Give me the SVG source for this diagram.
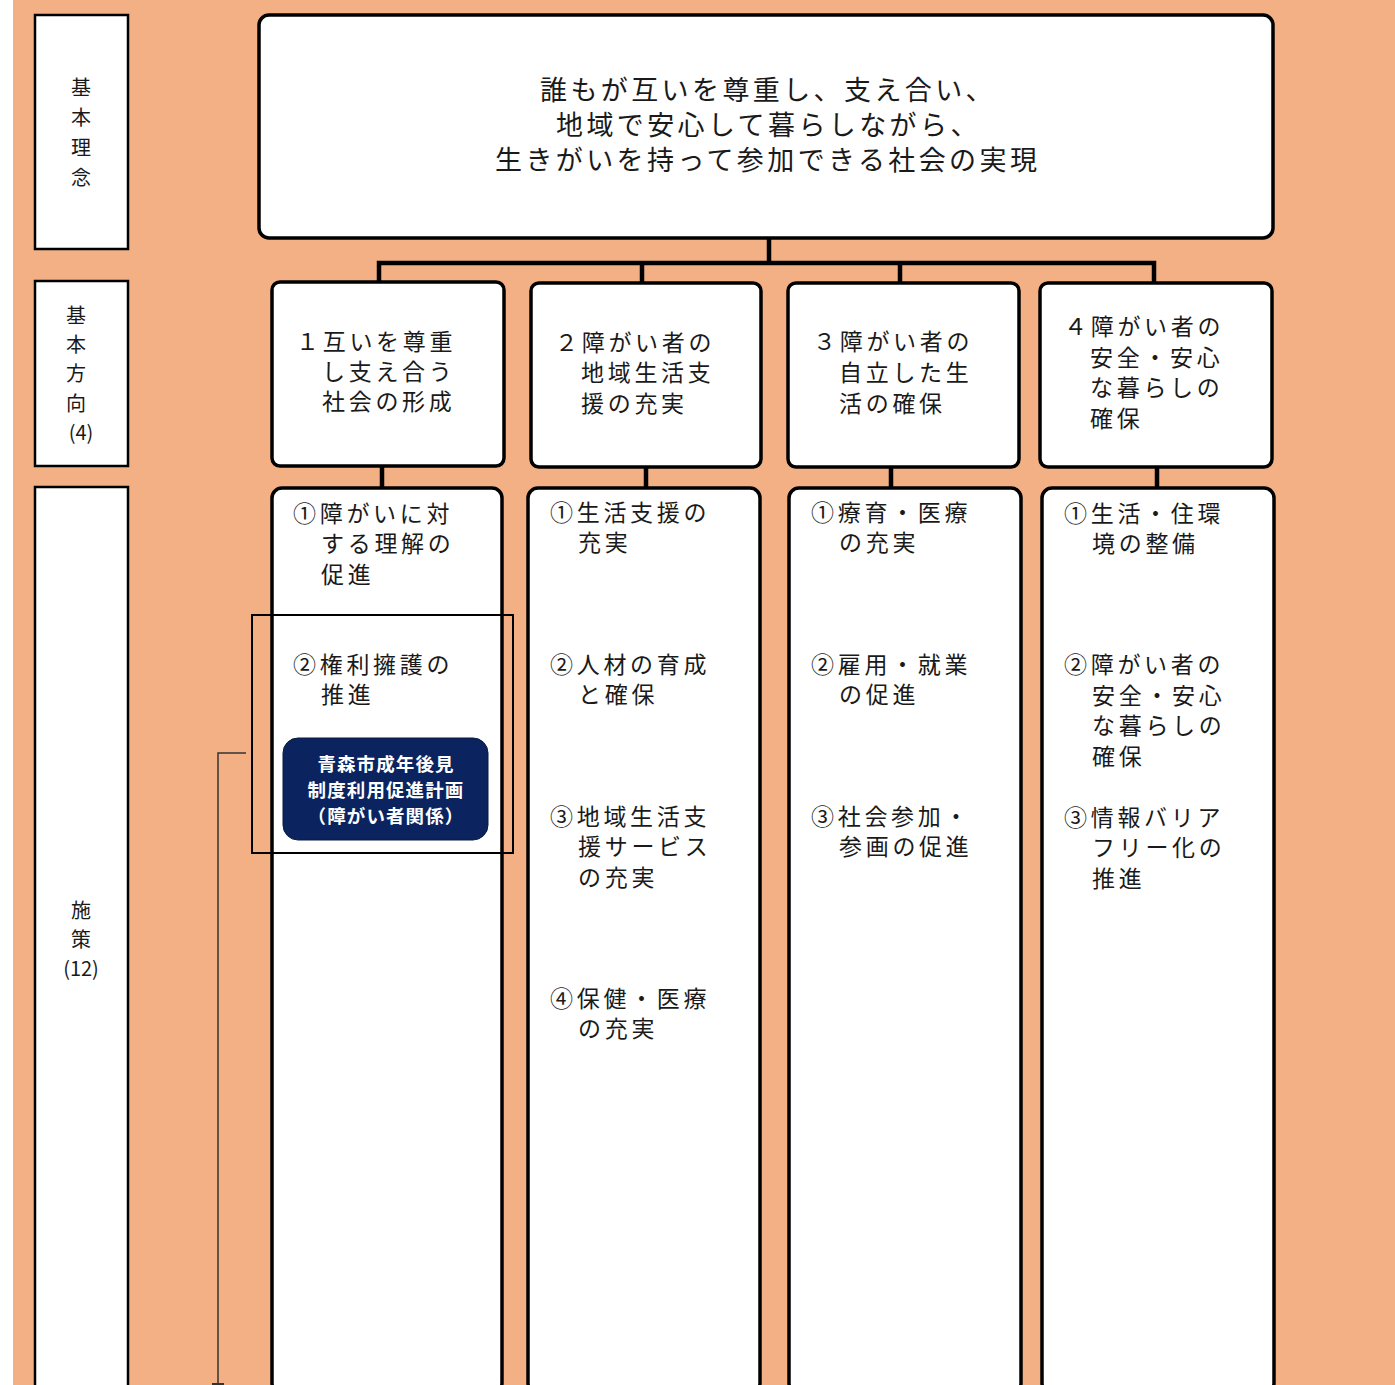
<svg xmlns="http://www.w3.org/2000/svg" width="1395" height="1385" viewBox="0 0 1395 1385">
<style>
.lbl{fill:#fff;stroke:#000;stroke-width:2.5}
.box{fill:#fff;stroke:#000;stroke-width:3.5}
.con{fill:none;stroke:#000;stroke-width:4.5}
text{font-family:"Noto Sans CJK JP","Noto Sans",sans-serif;fill:#1a1a1a}
.lt{font-size:20px;text-anchor:middle}
.top{font-size:27px;letter-spacing:3.4px}
.dt{font-size:23px;letter-spacing:3.7px}
.wt{font-size:18.5px;font-weight:bold;fill:#fff;text-anchor:middle;letter-spacing:1.1px}
</style>
<rect x="0" y="0" width="1395" height="1385" fill="#fff"/>
<rect x="13" y="0" width="1382" height="1385" fill="#F2B084"/>

<g id="label-kihonrinen">
<rect class="lbl" x="35" y="15" width="93" height="234"/>
<text class="lt" x="81" y="95">基</text>
<text class="lt" x="81" y="125">本</text>
<text class="lt" x="81" y="155">理</text>
<text class="lt" x="81" y="185">念</text>
</g>
<g id="label-kihonhoko">
<rect class="lbl" x="35" y="281" width="93" height="185"/>
<text class="lt" x="76" y="323">基</text>
<text class="lt" x="76" y="352">本</text>
<text class="lt" x="76" y="381">方</text>
<text class="lt" x="76" y="411">向</text>
<text class="lt" x="81" y="440">(4)</text>
</g>
<g id="label-shisaku">
<rect class="lbl" x="35" y="487" width="93" height="920"/>
<text class="lt" x="81" y="918">施</text>
<text class="lt" x="81" y="947">策</text>
<text class="lt" x="81" y="976">(12)</text>
</g>

<g id="connectors">
<polyline class="con" points="769,238 769,263"/>
<polyline class="con" points="379,284 379,263 1154,263 1154,284"/>
<line class="con" x1="642" y1="263" x2="642" y2="284"/>
<line class="con" x1="900" y1="263" x2="900" y2="284"/>
<line class="con" x1="382" y1="466" x2="382" y2="489"/>
<line class="con" x1="646" y1="467" x2="646" y2="489"/>
<line class="con" x1="891" y1="467" x2="891" y2="489"/>
<line class="con" x1="1157" y1="467" x2="1157" y2="489"/>
<polyline points="246,753 218,753 218,1385" fill="none" stroke="#333" stroke-width="1.5"/>
<line x1="212" y1="1384" x2="224" y2="1384" stroke="#333" stroke-width="2"/>
</g>

<g id="rinen">
<rect class="box" x="259" y="15" width="1014" height="223" rx="10"/>
<text class="top" x="540" y="100">誰もが互いを尊重し、支え合い、</text>
<text class="top" x="556" y="135">地域で安心して暮らしながら、</text>
<text class="top" x="495" y="170">生きがいを持って参加できる社会の実現</text>
</g>

<g id="hoko1">
<rect class="box" x="272" y="282" width="232" height="184" rx="8"/>
<text class="dt" x="296" y="350">１互いを尊重</text>
<text class="dt" x="322" y="380">し支え合う</text>
<text class="dt" x="322" y="410">社会の形成</text>
</g>
<g id="hoko2">
<rect class="box" x="531" y="283" width="230" height="184" rx="8"/>
<text class="dt" x="555" y="351">２障がい者の</text>
<text class="dt" x="581" y="381">地域生活支</text>
<text class="dt" x="581" y="412">援の充実</text>
</g>
<g id="hoko3">
<rect class="box" x="788" y="283" width="231" height="184" rx="8"/>
<text class="dt" x="813" y="350">３障がい者の</text>
<text class="dt" x="839" y="381">自立した生</text>
<text class="dt" x="839" y="412">活の確保</text>
</g>
<g id="hoko4">
<rect class="box" x="1040" y="283" width="232" height="184" rx="8"/>
<text class="dt" x="1064" y="335">４障がい者の</text>
<text class="dt" x="1090" y="366">安全・安心</text>
<text class="dt" x="1090" y="396">な暮らしの</text>
<text class="dt" x="1090" y="427">確保</text>
</g>

<g id="shisaku1">
<rect class="box" x="272" y="488" width="230" height="905" rx="10"/>
<text class="dt" x="293" y="522">①障がいに対</text>
<text class="dt" x="321" y="552">する理解の</text>
<text class="dt" x="321" y="583">促進</text>
<text class="dt" x="293" y="673">②権利擁護の</text>
<text class="dt" x="321" y="703">推進</text>
</g>
<g id="highlight">
<rect x="252" y="615" width="261" height="238" fill="none" stroke="#000" stroke-width="2"/>
</g>
<g id="keikaku">
<rect x="283" y="738" width="205" height="102" rx="15" fill="#0B2460" stroke="#0a1a40" stroke-width="1"/>
<text class="wt" x="386" y="771">青森市成年後見</text>
<text class="wt" x="386" y="797">制度利用促進計画</text>
<text class="wt" x="386" y="823">（障がい者関係）</text>
</g>
<g id="shisaku2">
<rect class="box" x="528" y="488" width="232" height="905" rx="10"/>
<text class="dt" x="550" y="521">①生活支援の</text>
<text class="dt" x="578" y="551">充実</text>
<text class="dt" x="550" y="673">②人材の育成</text>
<text class="dt" x="578" y="703">と確保</text>
<text class="dt" x="550" y="825">③地域生活支</text>
<text class="dt" x="578" y="855">援サービス</text>
<text class="dt" x="578" y="886">の充実</text>
<text class="dt" x="550" y="1007">④保健・医療</text>
<text class="dt" x="578" y="1037">の充実</text>
</g>
<g id="shisaku3">
<rect class="box" x="789" y="488" width="232" height="905" rx="10"/>
<text class="dt" x="811" y="521">①療育・医療</text>
<text class="dt" x="839" y="551">の充実</text>
<text class="dt" x="811" y="673">②雇用・就業</text>
<text class="dt" x="839" y="703">の促進</text>
<text class="dt" x="811" y="825">③社会参加・</text>
<text class="dt" x="839" y="855">参画の促進</text>
</g>
<g id="shisaku4">
<rect class="box" x="1042" y="488" width="232" height="905" rx="10"/>
<text class="dt" x="1064" y="522">①生活・住環</text>
<text class="dt" x="1092" y="552">境の整備</text>
<text class="dt" x="1064" y="673">②障がい者の</text>
<text class="dt" x="1092" y="704">安全・安心</text>
<text class="dt" x="1092" y="734">な暮らしの</text>
<text class="dt" x="1092" y="765">確保</text>
<text class="dt" x="1064" y="826">③情報バリア</text>
<text class="dt" x="1092" y="856">フリー化の</text>
<text class="dt" x="1092" y="887">推進</text>
</g>
</svg>
